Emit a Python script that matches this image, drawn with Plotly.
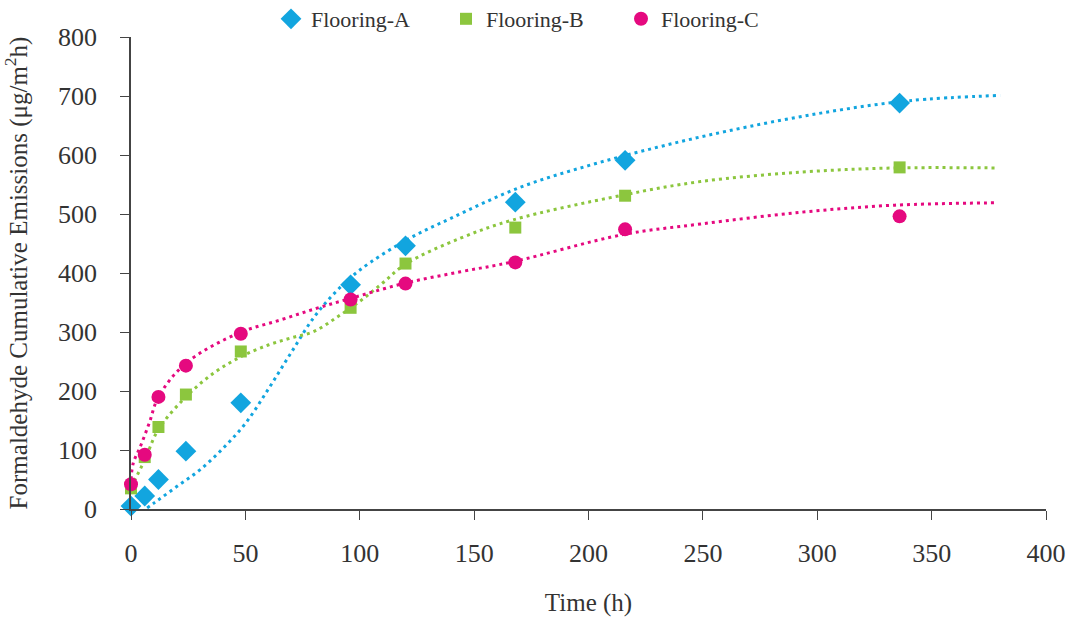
import plotly.graph_objects as go

# Measured data (time in hours, cumulative emissions in ug/m2h)
time_h = [0, 6, 12, 24, 48, 96, 120, 168, 216, 336]
flooring_a = [5, 22, 50, 98, 180, 380, 446, 520, 591, 688]
flooring_b = [35, 88, 139, 194, 267, 341, 416, 477, 531, 579]
flooring_c = [42, 92, 190, 243, 297, 355, 382, 418, 474, 496]

# Trendline values
trend_a_x = [2, 10, 20, 30, 40, 50, 60, 70, 80, 90, 100, 120, 140, 170, 200, 230, 260, 300, 340, 380]
trend_a_y = [-12, 10, 38, 66, 102, 145, 203, 265, 325, 370, 405, 455, 493, 545, 582, 613, 640, 670, 692, 701]
trend_b_x = [0, 6, 12, 24, 36, 48, 60, 70, 80, 90, 100, 110, 120, 144, 167, 215, 249, 293, 334, 379]
trend_b_y = [37, 83, 135, 190, 230, 258, 278, 290, 301, 325, 352, 383, 415, 459, 490, 532, 555, 571, 578, 578]
trend_c_x = [0, 1, 4, 8, 12, 24, 47, 65, 81, 96, 120, 144, 167, 215, 249, 293, 334, 379]
trend_c_y = [50, 78, 105, 146, 190, 247, 298, 320, 340, 357, 383, 402, 419, 465, 483, 503, 515, 519]

x_ticks = [0, 50, 100, 150, 200, 250, 300, 350, 400]
y_ticks = [0, 100, 200, 300, 400, 500, 600, 700, 800]

BLUE = "#12A5DF"
GREEN = "#8CC63E"
MAGENTA = "#E5097F"
FONT = "Liberation Serif, Times New Roman, serif"
TXT = "#333333"

fig = go.Figure()

for tx, ty, col in [(trend_a_x, trend_a_y, BLUE), (trend_b_x, trend_b_y, GREEN), (trend_c_x, trend_c_y, MAGENTA)]:
    fig.add_trace(go.Scatter(x=tx, y=ty, mode="lines", showlegend=False, hoverinfo="skip",
                             line=dict(color=col, width=3, dash="3px,4px", shape="spline", smoothing=1.0)))

fig.add_trace(go.Scatter(x=time_h, y=flooring_a, mode="markers", name="Flooring-A", cliponaxis=False,
                         marker=dict(symbol="diamond", size=16, color=BLUE)))
fig.add_trace(go.Scatter(x=time_h, y=flooring_b, mode="markers", name="Flooring-B", cliponaxis=False,
                         marker=dict(symbol="square", size=12, color=GREEN)))
fig.add_trace(go.Scatter(x=time_h, y=flooring_c, mode="markers", name="Flooring-C", cliponaxis=False,
                         marker=dict(symbol="circle", size=14, color=MAGENTA)))

fig.update_layout(
    width=1072, height=621,
    margin=dict(l=131, r=26, t=37, b=112, autoexpand=False),
    paper_bgcolor="white", plot_bgcolor="white",
    font=dict(family=FONT, color=TXT),
    showlegend=True,
    legend=dict(orientation="h", xref="paper", yref="paper",
                x=(271 - 131) / 915, xanchor="left", y=1 + 18 / 472, yanchor="middle",
                font=dict(size=22, family=FONT, color=TXT), itemwidth=30,
                entrywidth=130, bgcolor="rgba(0,0,0,0)"),
    xaxis=dict(range=[0, 400], tickvals=x_ticks, ticktext=[str(v) for v in x_ticks],
               showgrid=False, zeroline=False, showline=True, linecolor="#444444", linewidth=1.5,
               ticks="outside", ticklen=9, tickcolor="#444444", tickwidth=1,
               tickfont=dict(size=26, family=FONT, color=TXT), ticklabelstandoff=11,
               title=dict(text="Time (h)", font=dict(size=25, family=FONT, color=TXT), standoff=27)),
    yaxis=dict(range=[0, 800], tickvals=y_ticks, ticktext=[str(v) for v in y_ticks],
               showgrid=False, zeroline=False, showline=True, linecolor="#444444", linewidth=1.5,
               ticks="outside", ticklen=9, tickcolor="#444444", tickwidth=1,
               tickfont=dict(size=26, family=FONT, color=TXT), ticklabelstandoff=18,
               title=dict(text="Formaldehyde Cumulative Emissions (μg/m<sup>2</sup>h)",
                          font=dict(size=25, family=FONT, color=TXT), standoff=27)),
)

# remove the default page margin so the figure starts at the window's corner
fig.write_html("out.html", config={"displayModeBar": False},
               post_script="document.body.style.margin='0';document.body.style.overflow='hidden';")
